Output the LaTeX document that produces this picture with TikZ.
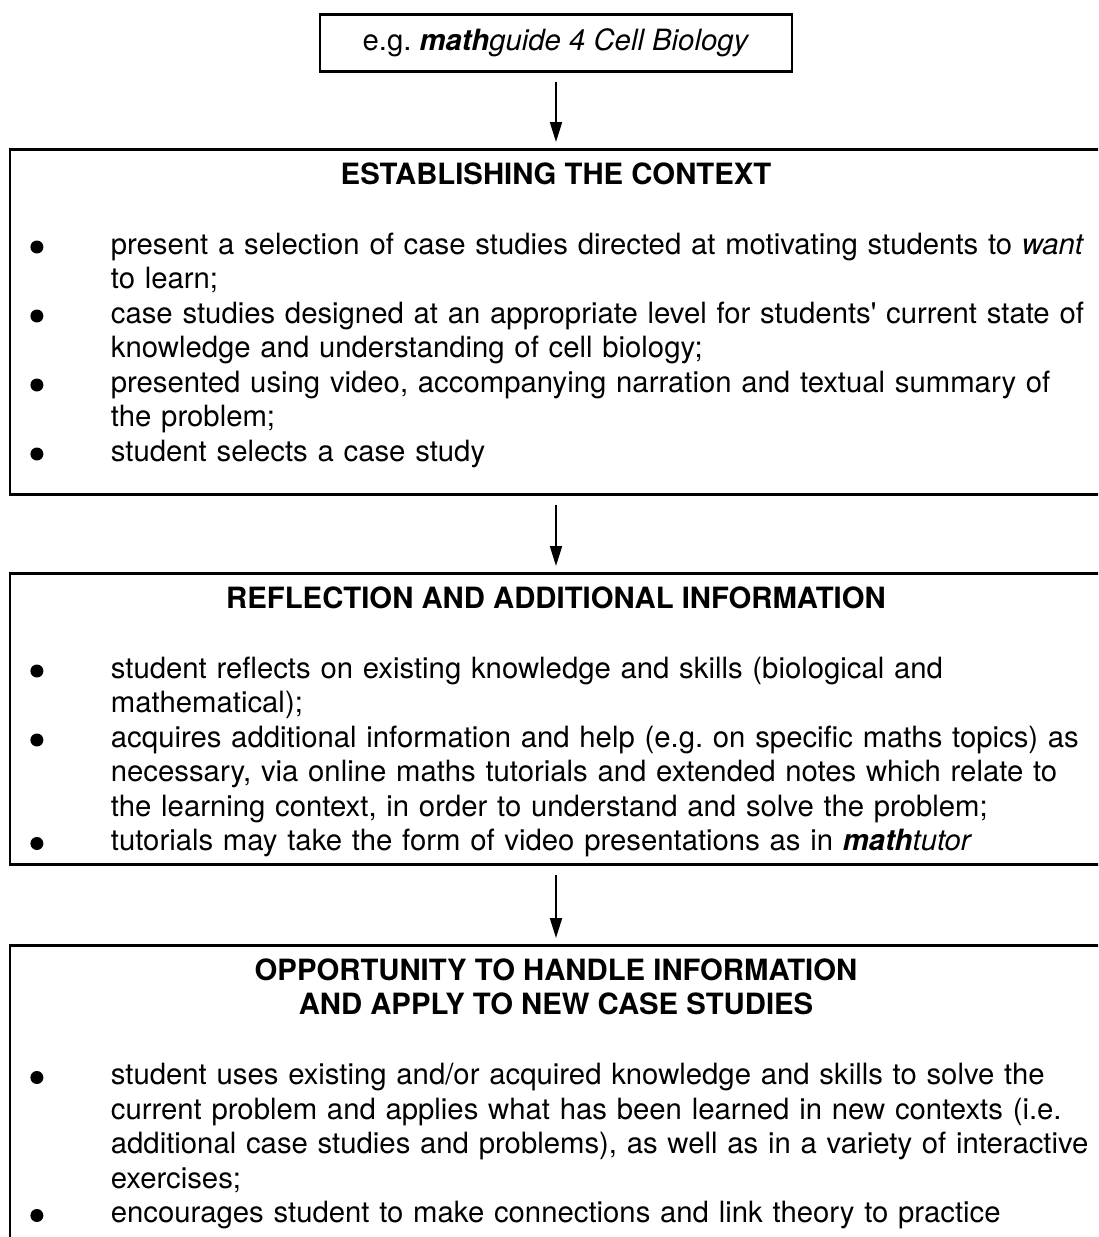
\documentclass[tikz,border=0pt]{standalone}
\usepackage{fontspec}
\setmainfont{TeX Gyre Heros}
\usetikzlibrary{arrows.meta,positioning}
\newcommand{\blob}{\leavevmode\llap{\tikz[baseline=-7pt]\fill (0,0) circle (6.5pt);\hspace{67.5pt}}}
\newcommand{\mtext}{\fontsize{29.3}{34.5}\selectfont\frenchspacing}

\begin{document}
\begin{tikzpicture}[x=1pt,y=-1pt,
    stage/.style={draw,line width=2.6pt,minimum width=1092pt,anchor=north,inner sep=0pt},
    title/.style={font=\mtext\bfseries,align=center,anchor=base},
    points/.style={font=\mtext,text width=1060pt,align=left,anchor=base west,inner sep=0pt},
    flow/.style={line width=2pt,-{Triangle[length=20pt,width=12pt]},shorten <=9pt,shorten >=6pt}]
  \useasboundingbox (0,0) rectangle (1098,1237);
  \clip (0,0) rectangle (1098,1237);
  % example box on top
  \node[draw,line width=2.6pt,minimum width=472pt,minimum height=57pt,anchor=north,font=\mtext] (guide) at (556,13)
    {e.g. \textbf{\textit{math}}\textit{guide 4 Cell Biology}};
  % the three stages
  \node[stage,minimum height=345pt] (context) at (556,148) {};
  \node[stage,minimum height=291pt] (reflect) at (556,572) {};
  \node[stage,minimum height=330pt] (apply) at (556,944) {};
  % headings
  \node[title] (contexthead) at ([yshift=-36pt]context.north) {ESTABLISHING THE CONTEXT};
  \node[title] (reflecthead) at ([yshift=-36pt]reflect.north) {REFLECTION AND ADDITIONAL INFORMATION};
  \node[title] (applyhead) at ([yshift=-70.5pt]apply.north) {OPPORTUNITY TO HANDLE INFORMATION\\AND APPLY TO NEW CASE STUDIES};
  % bullet points
  \node[points] (contextlist) at ([xshift=102pt,yshift=-106pt]context.north west) {%
    \blob present a selection of case studies directed at motivating students to \textit{want}\\
    to learn;\\
    \blob case studies designed at an appropriate level for students\textquotesingle\ current state of\\
    knowledge and understanding of cell biology;\\
    \blob presented using video, accompanying narration and textual summary of\\
    the problem;\\
    \blob student selects a case study};
  \node[points] (reflectlist) at ([xshift=102pt,yshift=-106pt]reflect.north west) {%
    \blob student reflects on existing knowledge and skills (biological and\\
    mathematical);\\
    \blob acquires additional information and help (e.g. on specific maths topics) as\\
    necessary, via online maths tutorials and extended notes which relate to\\
    the learning context, in order to understand and solve the problem;\\
    \blob tutorials may take the form of video presentations as in \textbf{\textit{math}}\textit{tutor}};
  \node[points] (applylist) at ([xshift=102pt,yshift=-140.5pt]apply.north west) {%
    \blob student uses existing and/or acquired knowledge and skills to solve the\\
    current problem and applies what has been learned in new contexts (i.e.\\
    additional case studies and problems), as well as in a variety of interactive\\
    exercises;\\
    \blob encourages student to make connections and link theory to practice};
  % arrows between boxes
  \draw[flow] (guide) -- (context);
  \draw[flow] (context) -- (reflect);
  \draw[flow] (reflect) -- (apply);
\end{tikzpicture}
\end{document}
